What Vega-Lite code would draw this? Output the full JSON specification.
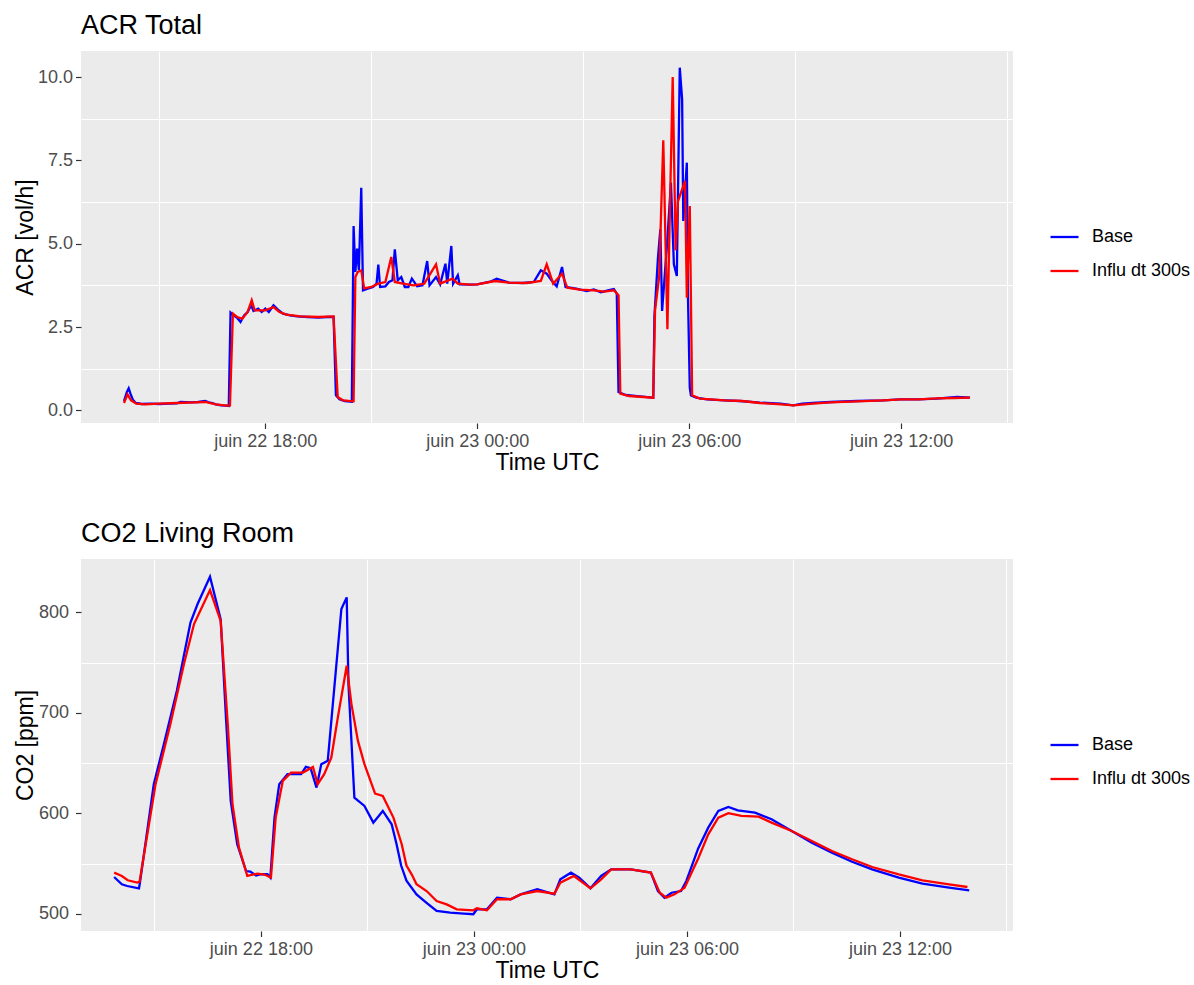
{
  "$schema": "https://vega.github.io/schema/vega-lite/v6.json",
  "padding": {"left": 14, "top": 12, "right": 0, "bottom": 5},
  "background": "#FFFFFF",
  "config": {
    "font": "Liberation Sans",
    "view": {"fill": "#EBEBEB", "stroke": null},
    "axis": {
      "domain": false, "grid": true, "gridColor": "#FFFFFF", "gridWidth": 2,
      "tickColor": "#333333", "tickSize": 5.5, "tickWidth": 1.2,
      "labelColor": "#4D4D4D", "labelFontSize": 18, "labelPadding": 3,
      "titleFontSize": 23, "titleFontWeight": "normal", "titleColor": "#000000"
    },
    "legend": {
      "symbolType": "stroke", "symbolStrokeWidth": 2.5, "symbolSize": 784,
      "labelFontSize": 18, "labelColor": "#000000", "labelOffset": 12,
      "clipHeight": 32, "rowPadding": 2, "padding": 0
    },
    "title": {"fontSize": 27, "fontWeight": "normal", "anchor": "start", "color": "#000000", "baseline": "alphabetic", "offset": 11, "frame": "group"},
    "line": {"strokeWidth": 2.3}
  },
  "datasets": {
    "acr": [
      {"time":"2022-06-22T14:00:00Z","scenario":"Base","acr":0.28},
      {"time":"2022-06-22T14:05:00Z","scenario":"Base","acr":0.55},
      {"time":"2022-06-22T14:08:00Z","scenario":"Base","acr":0.66},
      {"time":"2022-06-22T14:11:00Z","scenario":"Base","acr":0.50},
      {"time":"2022-06-22T14:15:00Z","scenario":"Base","acr":0.32},
      {"time":"2022-06-22T14:20:00Z","scenario":"Base","acr":0.22},
      {"time":"2022-06-22T14:30:00Z","scenario":"Base","acr":0.19},
      {"time":"2022-06-22T14:45:00Z","scenario":"Base","acr":0.20},
      {"time":"2022-06-22T15:00:00Z","scenario":"Base","acr":0.19},
      {"time":"2022-06-22T15:15:00Z","scenario":"Base","acr":0.20},
      {"time":"2022-06-22T15:30:00Z","scenario":"Base","acr":0.21},
      {"time":"2022-06-22T15:36:00Z","scenario":"Base","acr":0.25},
      {"time":"2022-06-22T15:54:00Z","scenario":"Base","acr":0.24},
      {"time":"2022-06-22T16:06:00Z","scenario":"Base","acr":0.25},
      {"time":"2022-06-22T16:18:00Z","scenario":"Base","acr":0.28},
      {"time":"2022-06-22T16:24:00Z","scenario":"Base","acr":0.24},
      {"time":"2022-06-22T16:30:00Z","scenario":"Base","acr":0.22},
      {"time":"2022-06-22T16:36:00Z","scenario":"Base","acr":0.18},
      {"time":"2022-06-22T16:45:00Z","scenario":"Base","acr":0.15},
      {"time":"2022-06-22T16:54:00Z","scenario":"Base","acr":0.14},
      {"time":"2022-06-22T16:58:00Z","scenario":"Base","acr":0.13},
      {"time":"2022-06-22T17:01:00Z","scenario":"Base","acr":2.93},
      {"time":"2022-06-22T17:06:00Z","scenario":"Base","acr":2.85},
      {"time":"2022-06-22T17:12:00Z","scenario":"Base","acr":2.78},
      {"time":"2022-06-22T17:18:00Z","scenario":"Base","acr":2.65},
      {"time":"2022-06-22T17:24:00Z","scenario":"Base","acr":2.85},
      {"time":"2022-06-22T17:30:00Z","scenario":"Base","acr":2.95},
      {"time":"2022-06-22T17:36:00Z","scenario":"Base","acr":3.15},
      {"time":"2022-06-22T17:40:00Z","scenario":"Base","acr":2.98},
      {"time":"2022-06-22T17:48:00Z","scenario":"Base","acr":3.05},
      {"time":"2022-06-22T17:54:00Z","scenario":"Base","acr":2.95},
      {"time":"2022-06-22T18:00:00Z","scenario":"Base","acr":3.05},
      {"time":"2022-06-22T18:06:00Z","scenario":"Base","acr":2.95},
      {"time":"2022-06-22T18:14:00Z","scenario":"Base","acr":3.15},
      {"time":"2022-06-22T18:21:00Z","scenario":"Base","acr":3.03},
      {"time":"2022-06-22T18:30:00Z","scenario":"Base","acr":2.90},
      {"time":"2022-06-22T18:42:00Z","scenario":"Base","acr":2.85},
      {"time":"2022-06-22T18:54:00Z","scenario":"Base","acr":2.82},
      {"time":"2022-06-22T19:12:00Z","scenario":"Base","acr":2.80},
      {"time":"2022-06-22T19:30:00Z","scenario":"Base","acr":2.78},
      {"time":"2022-06-22T19:45:00Z","scenario":"Base","acr":2.80},
      {"time":"2022-06-22T19:56:00Z","scenario":"Base","acr":2.80},
      {"time":"2022-06-22T20:00:00Z","scenario":"Base","acr":0.45},
      {"time":"2022-06-22T20:06:00Z","scenario":"Base","acr":0.33},
      {"time":"2022-06-22T20:15:00Z","scenario":"Base","acr":0.28},
      {"time":"2022-06-22T20:27:00Z","scenario":"Base","acr":0.26},
      {"time":"2022-06-22T20:30:00Z","scenario":"Base","acr":5.53},
      {"time":"2022-06-22T20:33:00Z","scenario":"Base","acr":4.15},
      {"time":"2022-06-22T20:36:00Z","scenario":"Base","acr":4.85},
      {"time":"2022-06-22T20:39:00Z","scenario":"Base","acr":4.20},
      {"time":"2022-06-22T20:43:00Z","scenario":"Base","acr":6.68},
      {"time":"2022-06-22T20:46:00Z","scenario":"Base","acr":3.60},
      {"time":"2022-06-22T20:54:00Z","scenario":"Base","acr":3.65},
      {"time":"2022-06-22T21:03:00Z","scenario":"Base","acr":3.70},
      {"time":"2022-06-22T21:09:00Z","scenario":"Base","acr":3.80},
      {"time":"2022-06-22T21:12:00Z","scenario":"Base","acr":4.37},
      {"time":"2022-06-22T21:15:00Z","scenario":"Base","acr":3.70},
      {"time":"2022-06-22T21:24:00Z","scenario":"Base","acr":3.72},
      {"time":"2022-06-22T21:30:00Z","scenario":"Base","acr":3.85},
      {"time":"2022-06-22T21:36:00Z","scenario":"Base","acr":3.90},
      {"time":"2022-06-22T21:40:00Z","scenario":"Base","acr":4.83},
      {"time":"2022-06-22T21:45:00Z","scenario":"Base","acr":3.90},
      {"time":"2022-06-22T21:51:00Z","scenario":"Base","acr":4.00},
      {"time":"2022-06-22T21:57:00Z","scenario":"Base","acr":3.70},
      {"time":"2022-06-22T22:03:00Z","scenario":"Base","acr":3.70},
      {"time":"2022-06-22T22:09:00Z","scenario":"Base","acr":3.95},
      {"time":"2022-06-22T22:18:00Z","scenario":"Base","acr":3.72},
      {"time":"2022-06-22T22:27:00Z","scenario":"Base","acr":3.75},
      {"time":"2022-06-22T22:35:00Z","scenario":"Base","acr":4.48},
      {"time":"2022-06-22T22:39:00Z","scenario":"Base","acr":3.75},
      {"time":"2022-06-22T22:50:00Z","scenario":"Base","acr":4.00},
      {"time":"2022-06-22T22:57:00Z","scenario":"Base","acr":3.78},
      {"time":"2022-06-22T23:06:00Z","scenario":"Base","acr":4.40},
      {"time":"2022-06-22T23:09:00Z","scenario":"Base","acr":3.80},
      {"time":"2022-06-22T23:16:00Z","scenario":"Base","acr":4.93},
      {"time":"2022-06-22T23:19:00Z","scenario":"Base","acr":3.80},
      {"time":"2022-06-22T23:27:00Z","scenario":"Base","acr":4.05},
      {"time":"2022-06-22T23:30:00Z","scenario":"Base","acr":3.78},
      {"time":"2022-06-22T23:48:00Z","scenario":"Base","acr":3.77},
      {"time":"2022-06-23T00:00:00Z","scenario":"Base","acr":3.78},
      {"time":"2022-06-23T00:24:00Z","scenario":"Base","acr":3.87},
      {"time":"2022-06-23T00:33:00Z","scenario":"Base","acr":3.95},
      {"time":"2022-06-23T00:54:00Z","scenario":"Base","acr":3.83},
      {"time":"2022-06-23T01:18:00Z","scenario":"Base","acr":3.82},
      {"time":"2022-06-23T01:36:00Z","scenario":"Base","acr":3.85},
      {"time":"2022-06-23T01:48:00Z","scenario":"Base","acr":4.20},
      {"time":"2022-06-23T01:58:00Z","scenario":"Base","acr":4.10},
      {"time":"2022-06-23T02:06:00Z","scenario":"Base","acr":3.90},
      {"time":"2022-06-23T02:15:00Z","scenario":"Base","acr":3.72},
      {"time":"2022-06-23T02:24:00Z","scenario":"Base","acr":4.30},
      {"time":"2022-06-23T02:30:00Z","scenario":"Base","acr":3.70},
      {"time":"2022-06-23T02:48:00Z","scenario":"Base","acr":3.65},
      {"time":"2022-06-23T03:06:00Z","scenario":"Base","acr":3.58},
      {"time":"2022-06-23T03:18:00Z","scenario":"Base","acr":3.63},
      {"time":"2022-06-23T03:30:00Z","scenario":"Base","acr":3.54},
      {"time":"2022-06-23T03:42:00Z","scenario":"Base","acr":3.60},
      {"time":"2022-06-23T03:52:00Z","scenario":"Base","acr":3.64},
      {"time":"2022-06-23T03:57:00Z","scenario":"Base","acr":3.50},
      {"time":"2022-06-23T04:00:00Z","scenario":"Base","acr":0.55},
      {"time":"2022-06-23T04:12:00Z","scenario":"Base","acr":0.46},
      {"time":"2022-06-23T04:36:00Z","scenario":"Base","acr":0.42},
      {"time":"2022-06-23T04:59:00Z","scenario":"Base","acr":0.38},
      {"time":"2022-06-23T05:01:00Z","scenario":"Base","acr":2.83},
      {"time":"2022-06-23T05:07:00Z","scenario":"Base","acr":4.58},
      {"time":"2022-06-23T05:11:00Z","scenario":"Base","acr":5.43},
      {"time":"2022-06-23T05:14:00Z","scenario":"Base","acr":2.98},
      {"time":"2022-06-23T05:23:00Z","scenario":"Base","acr":5.13},
      {"time":"2022-06-23T05:29:00Z","scenario":"Base","acr":6.83},
      {"time":"2022-06-23T05:34:00Z","scenario":"Base","acr":4.38},
      {"time":"2022-06-23T05:39:00Z","scenario":"Base","acr":4.03},
      {"time":"2022-06-23T05:44:00Z","scenario":"Base","acr":10.28},
      {"time":"2022-06-23T05:48:00Z","scenario":"Base","acr":9.33},
      {"time":"2022-06-23T05:50:00Z","scenario":"Base","acr":5.68},
      {"time":"2022-06-23T05:56:00Z","scenario":"Base","acr":7.43},
      {"time":"2022-06-23T05:58:00Z","scenario":"Base","acr":3.38},
      {"time":"2022-06-23T06:01:00Z","scenario":"Base","acr":0.68},
      {"time":"2022-06-23T06:03:00Z","scenario":"Base","acr":0.45},
      {"time":"2022-06-23T06:12:00Z","scenario":"Base","acr":0.38},
      {"time":"2022-06-23T06:30:00Z","scenario":"Base","acr":0.33},
      {"time":"2022-06-23T07:00:00Z","scenario":"Base","acr":0.30},
      {"time":"2022-06-23T07:26:00Z","scenario":"Base","acr":0.28},
      {"time":"2022-06-23T08:00:00Z","scenario":"Base","acr":0.23},
      {"time":"2022-06-23T08:35:00Z","scenario":"Base","acr":0.20},
      {"time":"2022-06-23T08:57:00Z","scenario":"Base","acr":0.15},
      {"time":"2022-06-23T09:12:00Z","scenario":"Base","acr":0.20},
      {"time":"2022-06-23T09:30:00Z","scenario":"Base","acr":0.22},
      {"time":"2022-06-23T10:00:00Z","scenario":"Base","acr":0.25},
      {"time":"2022-06-23T10:45:00Z","scenario":"Base","acr":0.28},
      {"time":"2022-06-23T11:30:00Z","scenario":"Base","acr":0.30},
      {"time":"2022-06-23T11:58:00Z","scenario":"Base","acr":0.33},
      {"time":"2022-06-23T12:30:00Z","scenario":"Base","acr":0.33},
      {"time":"2022-06-23T13:00:00Z","scenario":"Base","acr":0.35},
      {"time":"2022-06-23T13:35:00Z","scenario":"Base","acr":0.40},
      {"time":"2022-06-23T13:57:00Z","scenario":"Base","acr":0.38},
      {"time":"2022-06-22T14:00:00Z","scenario":"Influ dt 300s","acr":0.22},
      {"time":"2022-06-22T14:06:00Z","scenario":"Influ dt 300s","acr":0.48},
      {"time":"2022-06-22T14:12:00Z","scenario":"Influ dt 300s","acr":0.30},
      {"time":"2022-06-22T14:21:00Z","scenario":"Influ dt 300s","acr":0.20},
      {"time":"2022-06-22T14:36:00Z","scenario":"Influ dt 300s","acr":0.18},
      {"time":"2022-06-22T15:00:00Z","scenario":"Influ dt 300s","acr":0.20},
      {"time":"2022-06-22T15:30:00Z","scenario":"Influ dt 300s","acr":0.22},
      {"time":"2022-06-22T16:00:00Z","scenario":"Influ dt 300s","acr":0.24},
      {"time":"2022-06-22T16:18:00Z","scenario":"Influ dt 300s","acr":0.25},
      {"time":"2022-06-22T16:36:00Z","scenario":"Influ dt 300s","acr":0.18},
      {"time":"2022-06-22T16:54:00Z","scenario":"Influ dt 300s","acr":0.14},
      {"time":"2022-06-22T17:00:00Z","scenario":"Influ dt 300s","acr":0.15},
      {"time":"2022-06-22T17:05:00Z","scenario":"Influ dt 300s","acr":2.90},
      {"time":"2022-06-22T17:12:00Z","scenario":"Influ dt 300s","acr":2.80},
      {"time":"2022-06-22T17:21:00Z","scenario":"Influ dt 300s","acr":2.75},
      {"time":"2022-06-22T17:30:00Z","scenario":"Influ dt 300s","acr":2.95},
      {"time":"2022-06-22T17:37:00Z","scenario":"Influ dt 300s","acr":3.30},
      {"time":"2022-06-22T17:42:00Z","scenario":"Influ dt 300s","acr":3.00},
      {"time":"2022-06-22T17:51:00Z","scenario":"Influ dt 300s","acr":3.00},
      {"time":"2022-06-22T18:00:00Z","scenario":"Influ dt 300s","acr":3.00},
      {"time":"2022-06-22T18:14:00Z","scenario":"Influ dt 300s","acr":3.10},
      {"time":"2022-06-22T18:24:00Z","scenario":"Influ dt 300s","acr":2.95},
      {"time":"2022-06-22T18:36:00Z","scenario":"Influ dt 300s","acr":2.87},
      {"time":"2022-06-22T19:00:00Z","scenario":"Influ dt 300s","acr":2.82},
      {"time":"2022-06-22T19:30:00Z","scenario":"Influ dt 300s","acr":2.80},
      {"time":"2022-06-22T19:56:00Z","scenario":"Influ dt 300s","acr":2.82},
      {"time":"2022-06-22T20:03:00Z","scenario":"Influ dt 300s","acr":0.40},
      {"time":"2022-06-22T20:12:00Z","scenario":"Influ dt 300s","acr":0.30},
      {"time":"2022-06-22T20:30:00Z","scenario":"Influ dt 300s","acr":0.27},
      {"time":"2022-06-22T20:33:00Z","scenario":"Influ dt 300s","acr":4.00},
      {"time":"2022-06-22T20:37:00Z","scenario":"Influ dt 300s","acr":4.15},
      {"time":"2022-06-22T20:43:00Z","scenario":"Influ dt 300s","acr":4.20},
      {"time":"2022-06-22T20:48:00Z","scenario":"Influ dt 300s","acr":3.66},
      {"time":"2022-06-22T21:00:00Z","scenario":"Influ dt 300s","acr":3.70},
      {"time":"2022-06-22T21:12:00Z","scenario":"Influ dt 300s","acr":3.80},
      {"time":"2022-06-22T21:24:00Z","scenario":"Influ dt 300s","acr":3.85},
      {"time":"2022-06-22T21:34:00Z","scenario":"Influ dt 300s","acr":4.60},
      {"time":"2022-06-22T21:40:00Z","scenario":"Influ dt 300s","acr":3.85},
      {"time":"2022-06-22T21:54:00Z","scenario":"Influ dt 300s","acr":3.80},
      {"time":"2022-06-22T22:12:00Z","scenario":"Influ dt 300s","acr":3.75},
      {"time":"2022-06-22T22:30:00Z","scenario":"Influ dt 300s","acr":3.80},
      {"time":"2022-06-22T22:50:00Z","scenario":"Influ dt 300s","acr":4.38},
      {"time":"2022-06-22T22:57:00Z","scenario":"Influ dt 300s","acr":3.80},
      {"time":"2022-06-22T23:18:00Z","scenario":"Influ dt 300s","acr":3.95},
      {"time":"2022-06-22T23:27:00Z","scenario":"Influ dt 300s","acr":3.80},
      {"time":"2022-06-22T23:48:00Z","scenario":"Influ dt 300s","acr":3.77},
      {"time":"2022-06-23T00:00:00Z","scenario":"Influ dt 300s","acr":3.78},
      {"time":"2022-06-23T00:30:00Z","scenario":"Influ dt 300s","acr":3.88},
      {"time":"2022-06-23T00:54:00Z","scenario":"Influ dt 300s","acr":3.83},
      {"time":"2022-06-23T01:24:00Z","scenario":"Influ dt 300s","acr":3.82},
      {"time":"2022-06-23T01:48:00Z","scenario":"Influ dt 300s","acr":3.88},
      {"time":"2022-06-23T01:58:00Z","scenario":"Influ dt 300s","acr":4.38},
      {"time":"2022-06-23T02:09:00Z","scenario":"Influ dt 300s","acr":3.80},
      {"time":"2022-06-23T02:24:00Z","scenario":"Influ dt 300s","acr":4.10},
      {"time":"2022-06-23T02:33:00Z","scenario":"Influ dt 300s","acr":3.68},
      {"time":"2022-06-23T02:54:00Z","scenario":"Influ dt 300s","acr":3.62},
      {"time":"2022-06-23T03:18:00Z","scenario":"Influ dt 300s","acr":3.60},
      {"time":"2022-06-23T03:36:00Z","scenario":"Influ dt 300s","acr":3.56},
      {"time":"2022-06-23T03:52:00Z","scenario":"Influ dt 300s","acr":3.60},
      {"time":"2022-06-23T04:00:00Z","scenario":"Influ dt 300s","acr":3.45},
      {"time":"2022-06-23T04:03:00Z","scenario":"Influ dt 300s","acr":0.50},
      {"time":"2022-06-23T04:18:00Z","scenario":"Influ dt 300s","acr":0.43},
      {"time":"2022-06-23T04:59:00Z","scenario":"Influ dt 300s","acr":0.38},
      {"time":"2022-06-23T05:02:00Z","scenario":"Influ dt 300s","acr":3.00},
      {"time":"2022-06-23T05:09:00Z","scenario":"Influ dt 300s","acr":4.00},
      {"time":"2022-06-23T05:16:00Z","scenario":"Influ dt 300s","acr":8.10},
      {"time":"2022-06-23T05:23:00Z","scenario":"Influ dt 300s","acr":2.43},
      {"time":"2022-06-23T05:32:00Z","scenario":"Influ dt 300s","acr":10.00},
      {"time":"2022-06-23T05:37:00Z","scenario":"Influ dt 300s","acr":4.80},
      {"time":"2022-06-23T05:41:00Z","scenario":"Influ dt 300s","acr":6.28},
      {"time":"2022-06-23T05:53:00Z","scenario":"Influ dt 300s","acr":6.88},
      {"time":"2022-06-23T05:56:00Z","scenario":"Influ dt 300s","acr":3.38},
      {"time":"2022-06-23T06:01:00Z","scenario":"Influ dt 300s","acr":6.13},
      {"time":"2022-06-23T06:05:00Z","scenario":"Influ dt 300s","acr":0.45},
      {"time":"2022-06-23T06:18:00Z","scenario":"Influ dt 300s","acr":0.35},
      {"time":"2022-06-23T07:00:00Z","scenario":"Influ dt 300s","acr":0.30},
      {"time":"2022-06-23T07:30:00Z","scenario":"Influ dt 300s","acr":0.28},
      {"time":"2022-06-23T08:00:00Z","scenario":"Influ dt 300s","acr":0.22},
      {"time":"2022-06-23T08:36:00Z","scenario":"Influ dt 300s","acr":0.18},
      {"time":"2022-06-23T08:57:00Z","scenario":"Influ dt 300s","acr":0.15},
      {"time":"2022-06-23T09:30:00Z","scenario":"Influ dt 300s","acr":0.20},
      {"time":"2022-06-23T10:00:00Z","scenario":"Influ dt 300s","acr":0.24},
      {"time":"2022-06-23T10:45:00Z","scenario":"Influ dt 300s","acr":0.27},
      {"time":"2022-06-23T11:30:00Z","scenario":"Influ dt 300s","acr":0.30},
      {"time":"2022-06-23T12:00:00Z","scenario":"Influ dt 300s","acr":0.33},
      {"time":"2022-06-23T12:30:00Z","scenario":"Influ dt 300s","acr":0.33},
      {"time":"2022-06-23T13:00:00Z","scenario":"Influ dt 300s","acr":0.36},
      {"time":"2022-06-23T13:30:00Z","scenario":"Influ dt 300s","acr":0.37},
      {"time":"2022-06-23T13:57:00Z","scenario":"Influ dt 300s","acr":0.38}
    ],
    "co2": [
      {"time":"2022-06-22T13:52:00Z","scenario":"Base","co2":536.6},
      {"time":"2022-06-22T14:05:00Z","scenario":"Base","co2":529.3},
      {"time":"2022-06-22T14:14:00Z","scenario":"Base","co2":527.6},
      {"time":"2022-06-22T14:34:00Z","scenario":"Base","co2":525.3},
      {"time":"2022-06-22T14:36:00Z","scenario":"Base","co2":532.6},
      {"time":"2022-06-22T14:59:00Z","scenario":"Base","co2":629},
      {"time":"2022-06-22T15:16:00Z","scenario":"Base","co2":668.8},
      {"time":"2022-06-22T15:38:00Z","scenario":"Base","co2":722},
      {"time":"2022-06-22T16:01:00Z","scenario":"Base","co2":790},
      {"time":"2022-06-22T16:13:00Z","scenario":"Base","co2":808.4},
      {"time":"2022-06-22T16:34:00Z","scenario":"Base","co2":835.6},
      {"time":"2022-06-22T16:52:00Z","scenario":"Base","co2":793.4},
      {"time":"2022-06-22T17:01:00Z","scenario":"Base","co2":695.3},
      {"time":"2022-06-22T17:09:00Z","scenario":"Base","co2":612.3},
      {"time":"2022-06-22T17:20:00Z","scenario":"Base","co2":569.2},
      {"time":"2022-06-22T17:35:00Z","scenario":"Base","co2":542.5},
      {"time":"2022-06-22T17:42:00Z","scenario":"Base","co2":541.9},
      {"time":"2022-06-22T17:52:00Z","scenario":"Base","co2":538},
      {"time":"2022-06-22T18:00:00Z","scenario":"Base","co2":539.5},
      {"time":"2022-06-22T18:11:00Z","scenario":"Base","co2":539.3},
      {"time":"2022-06-22T18:16:00Z","scenario":"Base","co2":535.9},
      {"time":"2022-06-22T18:23:00Z","scenario":"Base","co2":595.7},
      {"time":"2022-06-22T18:31:00Z","scenario":"Base","co2":629},
      {"time":"2022-06-22T18:45:00Z","scenario":"Base","co2":639},
      {"time":"2022-06-22T19:08:00Z","scenario":"Base","co2":639},
      {"time":"2022-06-22T19:16:00Z","scenario":"Base","co2":646.2},
      {"time":"2022-06-22T19:24:00Z","scenario":"Base","co2":645},
      {"time":"2022-06-22T19:34:00Z","scenario":"Base","co2":625.6},
      {"time":"2022-06-22T19:42:00Z","scenario":"Base","co2":648.9},
      {"time":"2022-06-22T19:53:00Z","scenario":"Base","co2":652.2},
      {"time":"2022-06-22T20:16:00Z","scenario":"Base","co2":803.4},
      {"time":"2022-06-22T20:25:00Z","scenario":"Base","co2":815},
      {"time":"2022-06-22T20:28:00Z","scenario":"Base","co2":728.6},
      {"time":"2022-06-22T20:38:00Z","scenario":"Base","co2":615.6},
      {"time":"2022-06-22T20:55:00Z","scenario":"Base","co2":607.3},
      {"time":"2022-06-22T21:10:00Z","scenario":"Base","co2":590.7},
      {"time":"2022-06-22T21:26:00Z","scenario":"Base","co2":602.3},
      {"time":"2022-06-22T21:41:00Z","scenario":"Base","co2":589},
      {"time":"2022-06-22T21:49:00Z","scenario":"Base","co2":570},
      {"time":"2022-06-22T21:57:00Z","scenario":"Base","co2":548},
      {"time":"2022-06-22T22:06:00Z","scenario":"Base","co2":533},
      {"time":"2022-06-22T22:23:00Z","scenario":"Base","co2":519.3},
      {"time":"2022-06-22T22:40:00Z","scenario":"Base","co2":510.9},
      {"time":"2022-06-22T22:57:00Z","scenario":"Base","co2":502.7},
      {"time":"2022-06-22T23:20:00Z","scenario":"Base","co2":501},
      {"time":"2022-06-22T23:43:00Z","scenario":"Base","co2":500},
      {"time":"2022-06-22T23:59:00Z","scenario":"Base","co2":499.5},
      {"time":"2022-06-23T00:05:00Z","scenario":"Base","co2":504.4},
      {"time":"2022-06-23T00:22:00Z","scenario":"Base","co2":504.4},
      {"time":"2022-06-23T00:39:00Z","scenario":"Base","co2":516},
      {"time":"2022-06-23T01:02:00Z","scenario":"Base","co2":514.4},
      {"time":"2022-06-23T01:19:00Z","scenario":"Base","co2":519.3},
      {"time":"2022-06-23T01:47:00Z","scenario":"Base","co2":524.3},
      {"time":"2022-06-23T02:16:00Z","scenario":"Base","co2":519.3},
      {"time":"2022-06-23T02:26:00Z","scenario":"Base","co2":534.3},
      {"time":"2022-06-23T02:44:00Z","scenario":"Base","co2":540.9},
      {"time":"2022-06-23T02:58:00Z","scenario":"Base","co2":535.9},
      {"time":"2022-06-23T03:17:00Z","scenario":"Base","co2":525.3},
      {"time":"2022-06-23T03:35:00Z","scenario":"Base","co2":537.6},
      {"time":"2022-06-23T03:52:00Z","scenario":"Base","co2":544.2},
      {"time":"2022-06-23T04:25:00Z","scenario":"Base","co2":544.2},
      {"time":"2022-06-23T04:59:00Z","scenario":"Base","co2":540.9},
      {"time":"2022-06-23T05:11:00Z","scenario":"Base","co2":522.6},
      {"time":"2022-06-23T05:22:00Z","scenario":"Base","co2":516},
      {"time":"2022-06-23T05:34:00Z","scenario":"Base","co2":520.9},
      {"time":"2022-06-23T05:50:00Z","scenario":"Base","co2":522.6},
      {"time":"2022-06-23T05:59:00Z","scenario":"Base","co2":532.6},
      {"time":"2022-06-23T06:19:00Z","scenario":"Base","co2":565},
      {"time":"2022-06-23T06:36:00Z","scenario":"Base","co2":585.7},
      {"time":"2022-06-23T06:53:00Z","scenario":"Base","co2":602.3},
      {"time":"2022-06-23T07:10:00Z","scenario":"Base","co2":606.3},
      {"time":"2022-06-23T07:26:00Z","scenario":"Base","co2":603},
      {"time":"2022-06-23T07:55:00Z","scenario":"Base","co2":600.7},
      {"time":"2022-06-23T08:23:00Z","scenario":"Base","co2":594.1},
      {"time":"2022-06-23T08:57:00Z","scenario":"Base","co2":582.4},
      {"time":"2022-06-23T09:31:00Z","scenario":"Base","co2":570.8},
      {"time":"2022-06-23T10:05:00Z","scenario":"Base","co2":560.8},
      {"time":"2022-06-23T10:39:00Z","scenario":"Base","co2":551.8},
      {"time":"2022-06-23T11:13:00Z","scenario":"Base","co2":544.2},
      {"time":"2022-06-23T11:58:00Z","scenario":"Base","co2":535.9},
      {"time":"2022-06-23T12:38:00Z","scenario":"Base","co2":529.9},
      {"time":"2022-06-23T13:23:00Z","scenario":"Base","co2":525.9},
      {"time":"2022-06-23T13:57:00Z","scenario":"Base","co2":523.3},
      {"time":"2022-06-22T13:52:00Z","scenario":"Influ dt 300s","co2":540.9},
      {"time":"2022-06-22T14:05:00Z","scenario":"Influ dt 300s","co2":537.6},
      {"time":"2022-06-22T14:15:00Z","scenario":"Influ dt 300s","co2":533.3},
      {"time":"2022-06-22T14:31:00Z","scenario":"Influ dt 300s","co2":531},
      {"time":"2022-06-22T14:35:00Z","scenario":"Influ dt 300s","co2":532},
      {"time":"2022-06-22T15:02:00Z","scenario":"Influ dt 300s","co2":629},
      {"time":"2022-06-22T15:27:00Z","scenario":"Influ dt 300s","co2":688.7},
      {"time":"2022-06-22T15:50:00Z","scenario":"Influ dt 300s","co2":748.6},
      {"time":"2022-06-22T16:07:00Z","scenario":"Influ dt 300s","co2":788.4},
      {"time":"2022-06-22T16:34:00Z","scenario":"Influ dt 300s","co2":822.3},
      {"time":"2022-06-22T16:52:00Z","scenario":"Influ dt 300s","co2":791.7},
      {"time":"2022-06-22T17:04:00Z","scenario":"Influ dt 300s","co2":688.8},
      {"time":"2022-06-22T17:12:00Z","scenario":"Influ dt 300s","co2":609},
      {"time":"2022-06-22T17:23:00Z","scenario":"Influ dt 300s","co2":565.8},
      {"time":"2022-06-22T17:37:00Z","scenario":"Influ dt 300s","co2":537.6},
      {"time":"2022-06-22T17:54:00Z","scenario":"Influ dt 300s","co2":540},
      {"time":"2022-06-22T18:06:00Z","scenario":"Influ dt 300s","co2":539},
      {"time":"2022-06-22T18:17:00Z","scenario":"Influ dt 300s","co2":536},
      {"time":"2022-06-22T18:25:00Z","scenario":"Influ dt 300s","co2":595.7},
      {"time":"2022-06-22T18:37:00Z","scenario":"Influ dt 300s","co2":632.3},
      {"time":"2022-06-22T18:51:00Z","scenario":"Influ dt 300s","co2":640.5},
      {"time":"2022-06-22T19:11:00Z","scenario":"Influ dt 300s","co2":640.5},
      {"time":"2022-06-22T19:28:00Z","scenario":"Influ dt 300s","co2":646.2},
      {"time":"2022-06-22T19:36:00Z","scenario":"Influ dt 300s","co2":629},
      {"time":"2022-06-22T19:47:00Z","scenario":"Influ dt 300s","co2":639},
      {"time":"2022-06-22T19:59:00Z","scenario":"Influ dt 300s","co2":655.5},
      {"time":"2022-06-22T20:10:00Z","scenario":"Influ dt 300s","co2":695.3},
      {"time":"2022-06-22T20:25:00Z","scenario":"Influ dt 300s","co2":746.9},
      {"time":"2022-06-22T20:33:00Z","scenario":"Influ dt 300s","co2":708.7},
      {"time":"2022-06-22T20:44:00Z","scenario":"Influ dt 300s","co2":672.1},
      {"time":"2022-06-22T20:55:00Z","scenario":"Influ dt 300s","co2":648.9},
      {"time":"2022-06-22T21:13:00Z","scenario":"Influ dt 300s","co2":619.6},
      {"time":"2022-06-22T21:26:00Z","scenario":"Influ dt 300s","co2":617.3},
      {"time":"2022-06-22T21:44:00Z","scenario":"Influ dt 300s","co2":595.7},
      {"time":"2022-06-22T21:58:00Z","scenario":"Influ dt 300s","co2":569.2},
      {"time":"2022-06-22T22:06:00Z","scenario":"Influ dt 300s","co2":548},
      {"time":"2022-06-22T22:15:00Z","scenario":"Influ dt 300s","co2":539},
      {"time":"2022-06-22T22:23:00Z","scenario":"Influ dt 300s","co2":529.3},
      {"time":"2022-06-22T22:40:00Z","scenario":"Influ dt 300s","co2":522.6},
      {"time":"2022-06-22T22:57:00Z","scenario":"Influ dt 300s","co2":512.6},
      {"time":"2022-06-22T23:14:00Z","scenario":"Influ dt 300s","co2":509.3},
      {"time":"2022-06-22T23:31:00Z","scenario":"Influ dt 300s","co2":504.4},
      {"time":"2022-06-22T23:59:00Z","scenario":"Influ dt 300s","co2":503.4},
      {"time":"2022-06-23T00:05:00Z","scenario":"Influ dt 300s","co2":505.4},
      {"time":"2022-06-23T00:22:00Z","scenario":"Influ dt 300s","co2":503.4},
      {"time":"2022-06-23T00:39:00Z","scenario":"Influ dt 300s","co2":514.4},
      {"time":"2022-06-23T01:02:00Z","scenario":"Influ dt 300s","co2":514.4},
      {"time":"2022-06-23T01:19:00Z","scenario":"Influ dt 300s","co2":519.3},
      {"time":"2022-06-23T01:47:00Z","scenario":"Influ dt 300s","co2":522.6},
      {"time":"2022-06-23T02:16:00Z","scenario":"Influ dt 300s","co2":520},
      {"time":"2022-06-23T02:26:00Z","scenario":"Influ dt 300s","co2":531},
      {"time":"2022-06-23T02:49:00Z","scenario":"Influ dt 300s","co2":537.6},
      {"time":"2022-06-23T03:17:00Z","scenario":"Influ dt 300s","co2":525.3},
      {"time":"2022-06-23T03:35:00Z","scenario":"Influ dt 300s","co2":534.3},
      {"time":"2022-06-23T03:52:00Z","scenario":"Influ dt 300s","co2":544.2},
      {"time":"2022-06-23T04:25:00Z","scenario":"Influ dt 300s","co2":544.2},
      {"time":"2022-06-23T04:59:00Z","scenario":"Influ dt 300s","co2":540.9},
      {"time":"2022-06-23T05:14:00Z","scenario":"Influ dt 300s","co2":520.9},
      {"time":"2022-06-23T05:25:00Z","scenario":"Influ dt 300s","co2":516},
      {"time":"2022-06-23T05:39:00Z","scenario":"Influ dt 300s","co2":519.3},
      {"time":"2022-06-23T05:56:00Z","scenario":"Influ dt 300s","co2":525.9},
      {"time":"2022-06-23T06:19:00Z","scenario":"Influ dt 300s","co2":555},
      {"time":"2022-06-23T06:36:00Z","scenario":"Influ dt 300s","co2":579.1},
      {"time":"2022-06-23T06:53:00Z","scenario":"Influ dt 300s","co2":595.7},
      {"time":"2022-06-23T07:10:00Z","scenario":"Influ dt 300s","co2":600.1},
      {"time":"2022-06-23T07:32:00Z","scenario":"Influ dt 300s","co2":597.4},
      {"time":"2022-06-23T08:01:00Z","scenario":"Influ dt 300s","co2":596.7},
      {"time":"2022-06-23T08:23:00Z","scenario":"Influ dt 300s","co2":590.7},
      {"time":"2022-06-23T08:57:00Z","scenario":"Influ dt 300s","co2":582.4},
      {"time":"2022-06-23T09:31:00Z","scenario":"Influ dt 300s","co2":572.5},
      {"time":"2022-06-23T10:05:00Z","scenario":"Influ dt 300s","co2":562.5},
      {"time":"2022-06-23T10:39:00Z","scenario":"Influ dt 300s","co2":554.2},
      {"time":"2022-06-23T11:13:00Z","scenario":"Influ dt 300s","co2":546.5},
      {"time":"2022-06-23T11:58:00Z","scenario":"Influ dt 300s","co2":539.2},
      {"time":"2022-06-23T12:38:00Z","scenario":"Influ dt 300s","co2":533.3},
      {"time":"2022-06-23T13:23:00Z","scenario":"Influ dt 300s","co2":529.3},
      {"time":"2022-06-23T13:54:00Z","scenario":"Influ dt 300s","co2":526.6}
    ]
  },
  "columns": 1,
  "spacing": 45,
  "resolve": {"scale": {"x": "independent", "y": "independent", "color": "independent"}, "legend": {"color": "independent"}},
  "concat": [
    {
      "title": "ACR Total",
      "width": 932,
      "height": 372,
      "data": {"name": "acr"},
      "resolve": {"axis": {"x": "independent", "y": "independent"}},
      "layer": [
        {
          "mark": {"type": "line", "opacity": 0},
          "encoding": {
            "x": {"field": "time", "type": "temporal",
              "scale": {"type": "utc", "domain": [{"year":2022,"month":6,"date":22,"hours":12,"minutes":47,"utc":true},{"year":2022,"month":6,"date":23,"hours":15,"minutes":10,"utc":true}]},
              "axis": {"orient": "bottom", "values": [{"year":2022,"month":6,"date":22,"hours":15,"utc":true},{"year":2022,"month":6,"date":22,"hours":21,"utc":true},{"year":2022,"month":6,"date":23,"hours":3,"utc":true},{"year":2022,"month":6,"date":23,"hours":9,"utc":true},{"year":2022,"month":6,"date":23,"hours":15,"utc":true}], "labels": false, "ticks": false, "title": null, "gridWidth": 1}},
            "y": {"field": "acr", "type": "quantitative",
              "scale": {"domain": [-0.38, 10.78], "nice": false, "zero": false},
              "axis": {"orient": "left", "values": [1.25, 3.75, 6.25, 8.75], "labels": false, "ticks": false, "title": null, "gridWidth": 1}}
          }
        },
        {
          "mark": {"type": "line"},
          "encoding": {
            "x": {"field": "time", "type": "temporal",
              "axis": {"orient": "bottom", "values": [{"year":2022,"month":6,"date":22,"hours":18,"utc":true},{"year":2022,"month":6,"date":23,"hours":0,"utc":true},{"year":2022,"month":6,"date":23,"hours":6,"utc":true},{"year":2022,"month":6,"date":23,"hours":12,"utc":true}], "labelExpr": "'juin ' + utcFormat(datum.value, '%d %H:%M')", "title": "Time UTC", "labelPadding": 4, "titlePadding": 1}},
            "y": {"field": "acr", "type": "quantitative",
              "axis": {"orient": "left", "values": [0, 2.5, 5, 7.5, 10], "format": ".1f", "title": "ACR [vol/h]", "titleX": -49, "titleY": 186, "titleAngle": -90, "titleAlign": "center", "titleBaseline": "alphabetic"}},
            "color": {"field": "scenario", "type": "nominal",
              "scale": {"domain": ["Base", "Influ dt 300s"], "range": ["#0000FF", "#FF0000"]},
              "legend": {"title": null, "orient": "none", "legendX": 968, "legendY": 170}}
          }
        }
      ]
    },
    {
      "title": "CO2 Living Room",
      "width": 932,
      "height": 372,
      "data": {"name": "co2"},
      "resolve": {"axis": {"x": "independent", "y": "independent"}},
      "layer": [
        {
          "mark": {"type": "line", "opacity": 0},
          "encoding": {
            "x": {"field": "time", "type": "temporal",
              "scale": {"type": "utc", "domain": [{"year":2022,"month":6,"date":22,"hours":12,"minutes":56,"utc":true},{"year":2022,"month":6,"date":23,"hours":15,"minutes":11,"utc":true}]},
              "axis": {"orient": "bottom", "values": [{"year":2022,"month":6,"date":22,"hours":15,"utc":true},{"year":2022,"month":6,"date":22,"hours":21,"utc":true},{"year":2022,"month":6,"date":23,"hours":3,"utc":true},{"year":2022,"month":6,"date":23,"hours":9,"utc":true},{"year":2022,"month":6,"date":23,"hours":15,"utc":true}], "labels": false, "ticks": false, "title": null, "gridWidth": 1}},
            "y": {"field": "co2", "type": "quantitative",
              "scale": {"domain": [482.8, 853.2], "nice": false, "zero": false},
              "axis": {"orient": "left", "values": [550, 650, 750], "labels": false, "ticks": false, "title": null, "gridWidth": 1}}
          }
        },
        {
          "mark": {"type": "line"},
          "encoding": {
            "x": {"field": "time", "type": "temporal",
              "axis": {"orient": "bottom", "values": [{"year":2022,"month":6,"date":22,"hours":18,"utc":true},{"year":2022,"month":6,"date":23,"hours":0,"utc":true},{"year":2022,"month":6,"date":23,"hours":6,"utc":true},{"year":2022,"month":6,"date":23,"hours":12,"utc":true}], "labelExpr": "'juin ' + utcFormat(datum.value, '%d %H:%M')", "title": "Time UTC", "labelPadding": 4, "titlePadding": 1}},
            "y": {"field": "co2", "type": "quantitative",
              "axis": {"orient": "left", "values": [500, 600, 700, 800], "format": "d", "labelPadding": 7, "title": "CO2 [ppm]", "titleX": -49, "titleY": 186, "titleAngle": -90, "titleAlign": "center", "titleBaseline": "alphabetic"}},
            "color": {"field": "scenario", "type": "nominal",
              "scale": {"domain": ["Base", "Influ dt 300s"], "range": ["#0000FF", "#FF0000"]},
              "legend": {"title": null, "orient": "none", "legendX": 968, "legendY": 170}}
          }
        }
      ]
    }
  ]
}
